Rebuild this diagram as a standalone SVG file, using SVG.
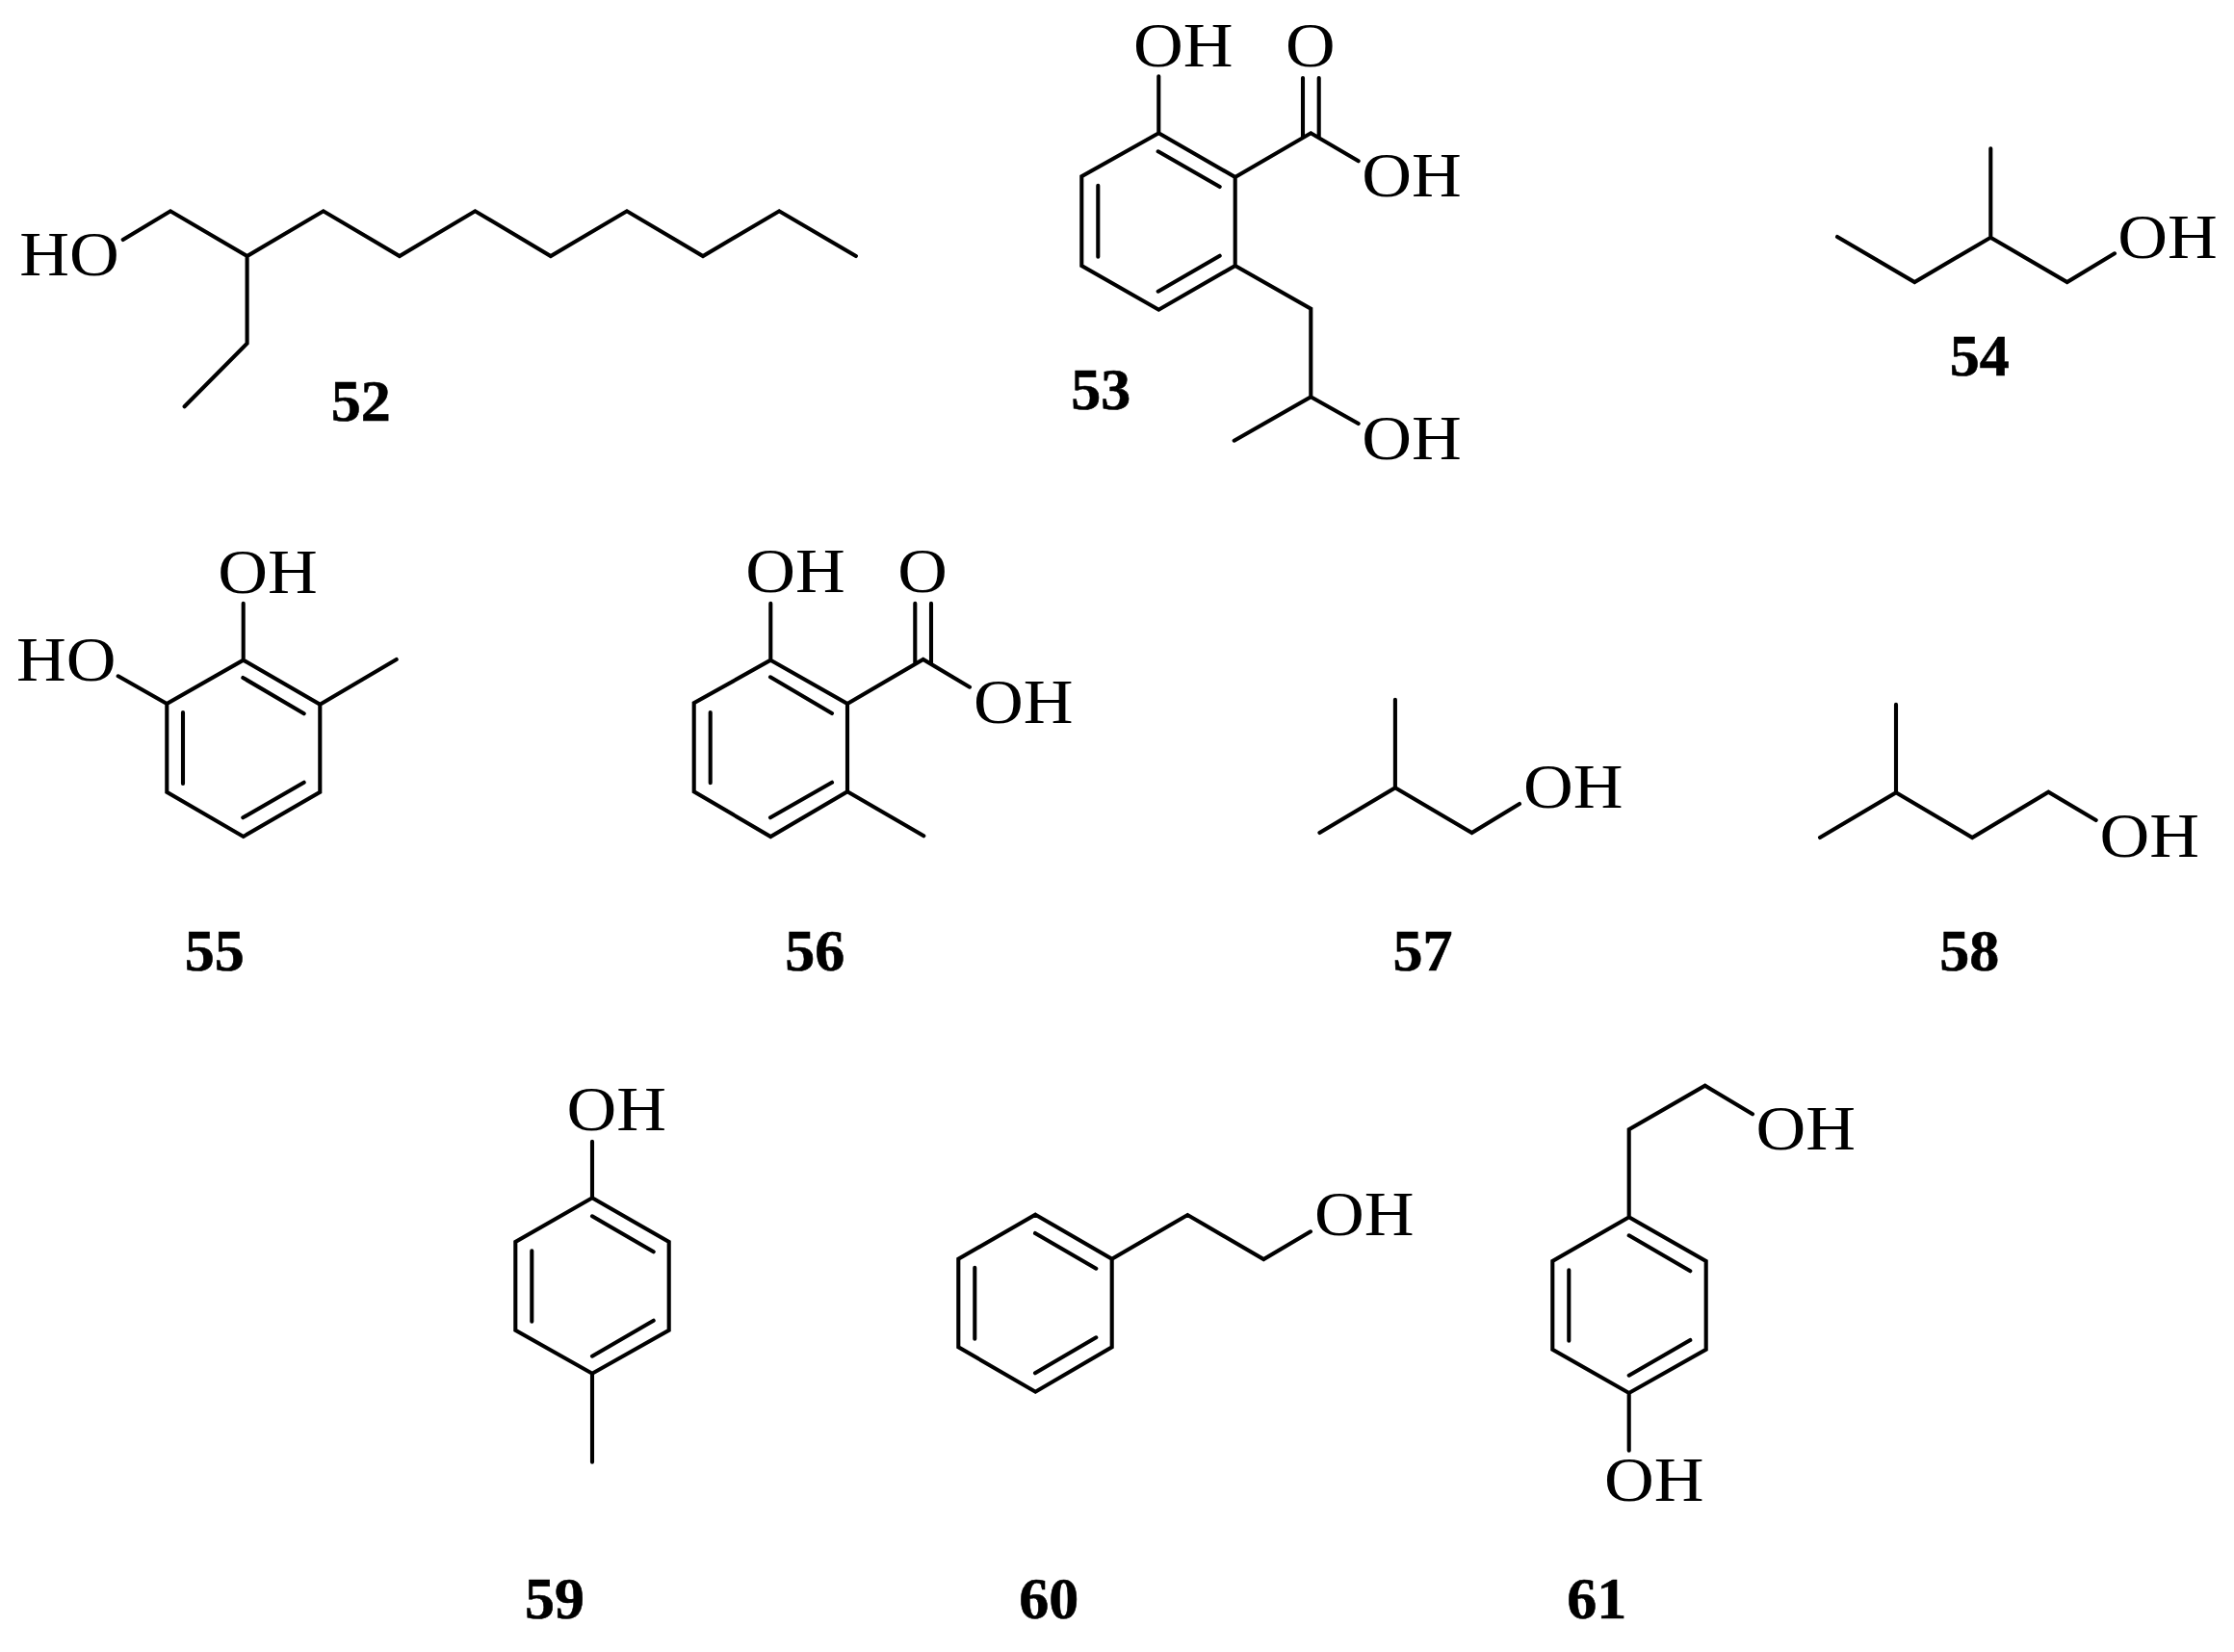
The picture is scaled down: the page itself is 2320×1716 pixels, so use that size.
<svg xmlns="http://www.w3.org/2000/svg" width="2320" height="1716" viewBox="0 0 2320 1716">
<style>
.b{fill:none;stroke:#000;stroke-width:4.1;stroke-linecap:round;stroke-linejoin:miter;stroke-miterlimit:6}
.a{font-family:"Liberation Serif","Times New Roman",serif;font-size:65px;fill:#000}
.n{font-family:"Liberation Serif","Times New Roman",serif;font-size:62px;font-weight:700;fill:#000;stroke:#000;stroke-width:.6}
</style>
<rect width="2320" height="1716" fill="#fff"/>
<g id="m52">
<path class="b" d="M127.700 249L177 219.300L256.600 266L335.800 219.300L414.900 266L493.400 219.300L571.900 266L651 219.300L730 266L809.200 219.300L888.900 266M256.600 266V356.700L191.600 422.300"/>
<text class="a" x="20.300" y="286" textLength="103.500" lengthAdjust="spacingAndGlyphs">HO</text>
<text class="n" x="343.700" y="436.700">52</text>
</g>
<g id="m53">
<path class="b" d="M1203.300 138.300L1282.700 184V276L1203.300 321.700L1123.300 276V183.300ZM1202.700 157.300L1266.700 194M1140.300 192.700V266.700M1202.700 302.700L1266.700 265.700M1203.300 79.300V138.300M1282.700 184L1361.300 138.300L1410.700 167.300M1353 81V142.700M1369.700 81V142.700M1282.700 276L1361.300 320.700V412.300L1281.700 457.700M1361.300 412.300L1410.700 440"/>
<text class="a" x="1176.900" y="69" textLength="103.500" lengthAdjust="spacingAndGlyphs">OH</text>
<text class="a" x="1334.900" y="69" textLength="51.600" lengthAdjust="spacingAndGlyphs">O</text>
<text class="a" x="1414.300" y="204.300" textLength="103.500" lengthAdjust="spacingAndGlyphs">OH</text>
<text class="a" x="1414.300" y="477.300" textLength="103.500" lengthAdjust="spacingAndGlyphs">OH</text>
<text class="n" x="1112.300" y="425">53</text>
</g>
<g id="m54">
<path class="b" d="M1908 246L1988.300 293L2067.300 246.700V154.300M2067.300 246.700L2146.700 293L2196 263.300"/>
<text class="a" x="2199.300" y="267.700" textLength="103.500" lengthAdjust="spacingAndGlyphs">OH</text>
<text class="n" x="2024.700" y="390">54</text>
</g>
<g id="m55">
<path class="b" d="M252.700 685.700L332.300 731.700V822.700L252.700 869L173.300 822.700V731ZM252.300 704L315.700 741.300M190 740V814M252.300 849.300L315.700 812.700M252.700 626.700V685.700M332.300 731.700L411.700 685M122.700 702.300L173.300 731"/>
<text class="a" x="226.300" y="615.700" textLength="103.500" lengthAdjust="spacingAndGlyphs">OH</text>
<text class="a" x="16.900" y="706.700" textLength="103.500" lengthAdjust="spacingAndGlyphs">HO</text>
<text class="n" x="191.700" y="1008.300">55</text>
</g>
<g id="m56">
<path class="b" d="M800.300 685.700L880 731V822.300L800.300 869L720.700 822.300V730.300ZM800 703.300L864 741M737.700 740V813.300M800 849.300L864 812.700M800.300 626.700V685.700M880 731L958.700 685L1007 713.700M950.300 626.700V688.700M967 626.700V688.700M880 822.300L959.300 868.300"/>
<text class="a" x="774.300" y="615" textLength="103.500" lengthAdjust="spacingAndGlyphs">OH</text>
<text class="a" x="932.300" y="615" textLength="51.600" lengthAdjust="spacingAndGlyphs">O</text>
<text class="a" x="1010.900" y="751.300" textLength="103.500" lengthAdjust="spacingAndGlyphs">OH</text>
<text class="n" x="815.300" y="1008.300">56</text>
</g>
<g id="m57">
<path class="b" d="M1370.400 865L1448.900 818.300V726.700M1448.900 818.300L1528.500 865L1578 835"/>
<text class="a" x="1582" y="839" textLength="103.500" lengthAdjust="spacingAndGlyphs">OH</text>
<text class="n" x="1446.600" y="1008.300">57</text>
</g>
<g id="m58">
<path class="b" d="M1890 870L1969 823.300V731.700M1969 823.300L2048.200 870L2127.300 822.700L2176.700 852"/>
<text class="a" x="2180.500" y="890" textLength="103.500" lengthAdjust="spacingAndGlyphs">OH</text>
<text class="n" x="2014.200" y="1008.300">58</text>
</g>
<g id="m59">
<path class="b" d="M615 1244.300L694.700 1290V1381.700L615 1426.700L535.300 1381.700V1290ZM615 1263.300L678.700 1300.300M552.300 1299.300V1372.700M615 1408.700L678.700 1371.700M615 1185.700V1244.300M615 1426.700V1518.700"/>
<text class="a" x="588.600" y="1174.300" textLength="103.500" lengthAdjust="spacingAndGlyphs">OH</text>
<text class="n" x="545" y="1680.500">59</text>
</g>
<g id="m60">
<path class="b" d="M1075.300 1261.700L1154.700 1307.700V1399.300L1075.300 1445.700L995.300 1399.300V1307.700ZM1075 1281L1138.300 1317.700M1012.300 1316.700V1390.700M1075 1426.300L1138.300 1389.300M1154.700 1307.700L1233.300 1262L1312.300 1308L1361 1279.300"/>
<text class="a" x="1364.900" y="1283.300" textLength="103.500" lengthAdjust="spacingAndGlyphs">OH</text>
<text class="n" x="1058.300" y="1680.500">60</text>
</g>
<g id="m61">
<path class="b" d="M1691.700 1264.300L1771.700 1310V1401.700L1691.700 1447L1612.300 1401.700V1310ZM1691.700 1283.300L1755.300 1320.300M1629.300 1319.300V1392.700M1691.700 1428.700L1755.300 1392M1691.700 1264.300V1173.300L1770.700 1127.700L1820 1157.300M1691.700 1447V1506.700"/>
<text class="a" x="1823.600" y="1194.300" textLength="103.500" lengthAdjust="spacingAndGlyphs">OH</text>
<text class="a" x="1665.900" y="1559.300" textLength="103.500" lengthAdjust="spacingAndGlyphs">OH</text>
<text class="n" x="1627.300" y="1680.500">61</text>
</g>
</svg>
